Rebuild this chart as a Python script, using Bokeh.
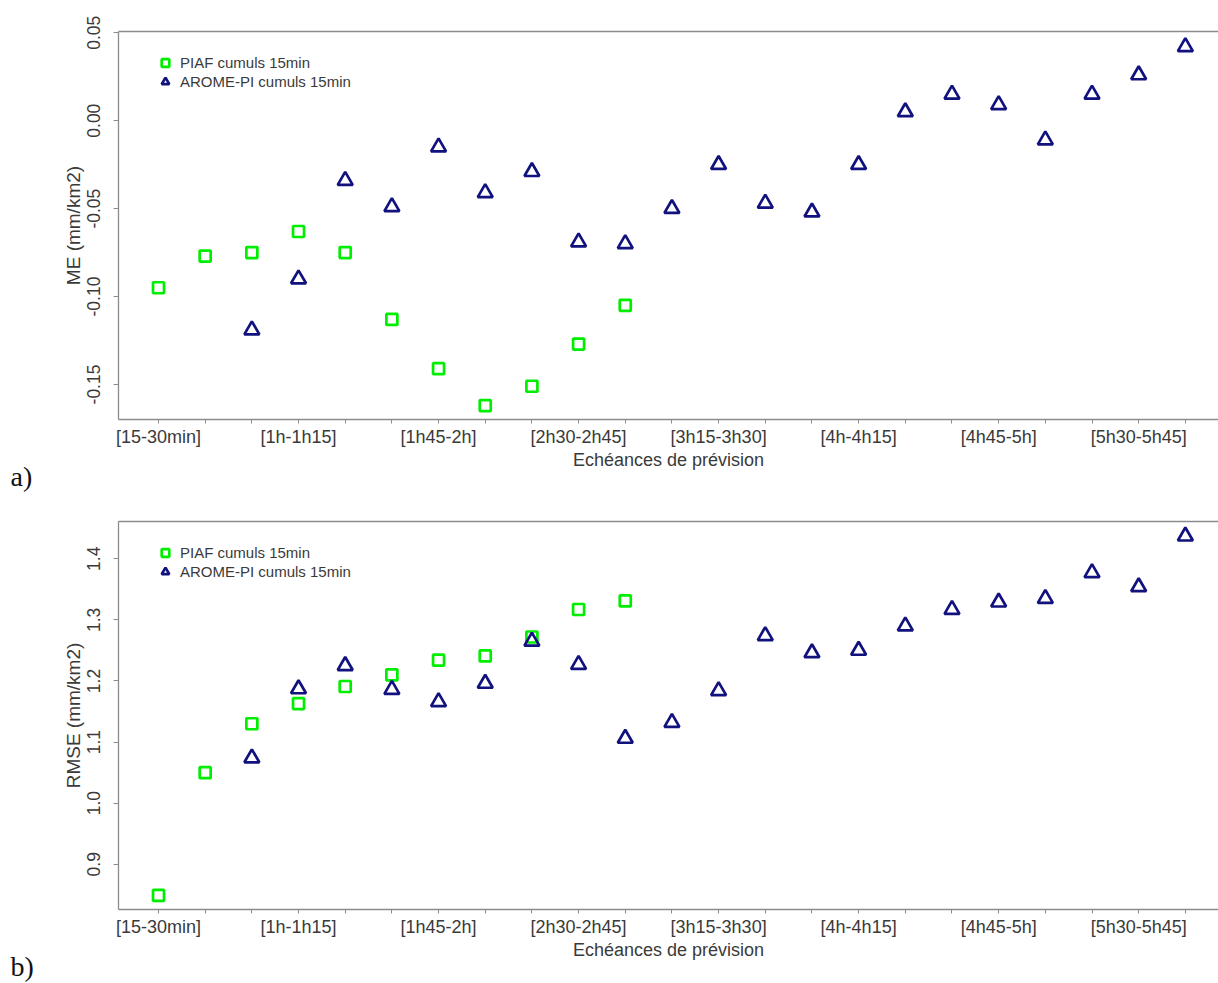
from bokeh.plotting import figure
from bokeh.models import FixedTicker, PrintfTickFormatter, Legend, LegendItem, Title, LinearAxis, Range1d
from bokeh.layouts import column
from bokeh.embed import file_html
from bokeh.resources import INLINE

# ---------------- data ----------------
categories = ["[15-30min]", "[30-45min]", "[45min-1h]", "[1h-1h15]", "[1h15-1h30]",
              "[1h30-1h45]", "[1h45-2h]", "[2h-2h15]", "[2h15-2h30]", "[2h30-2h45]",
              "[2h45-3h]", "[3h-3h15]", "[3h15-3h30]", "[3h30-3h45]", "[3h45-4h]",
              "[4h-4h15]", "[4h15-4h30]", "[4h30-4h45]", "[4h45-5h]", "[5h-5h15]",
              "[5h15-5h30]", "[5h30-5h45]", "[5h45-6h]"]

piaf_cats = categories[:11]
arome_cats = categories[2:]

me_piaf = [-0.095, -0.077, -0.075, -0.063, -0.075, -0.113, -0.141, -0.162, -0.151, -0.127, -0.105]
me_arome = [-0.119, -0.090, -0.034, -0.049, -0.015, -0.041, -0.029, -0.069, -0.070, -0.050,
            -0.025, -0.047, -0.052, -0.025, 0.005, 0.015, 0.009, -0.011, 0.015, 0.026, 0.042]

rmse_piaf = [0.849, 1.050, 1.130, 1.163, 1.191, 1.210, 1.234, 1.241, 1.272, 1.317, 1.331]
rmse_arome = [1.074, 1.187, 1.225, 1.186, 1.166, 1.196, 1.265, 1.227, 1.106, 1.132,
              1.184, 1.274, 1.246, 1.250, 1.290, 1.317, 1.329, 1.335, 1.377, 1.354, 1.437]

me_ticks = [-0.15, -0.10, -0.05, 0.00, 0.05]
rmse_ticks = [0.9, 1.0, 1.1, 1.2, 1.3, 1.4]

series_names = ["PIAF cumuls 15min", "AROME-PI cumuls 15min"]
x_title = "Echéances de prévision"

# ---------------- style ----------------
GREEN = "#00ee00"
NAVY = "#12127e"
TXT = "#3a3a3a"
AX = "#8c8c8c"
FONT = "Liberation Sans"

xi = {c: i for i, c in enumerate(categories)}
shown_labels = {i: (c if i % 3 == 0 else "") for i, c in enumerate(categories)}


def make_panel(y_piaf, y_arome, yrange, yticks, yfmt, ylabel, tag, tag_standoff,
               height, top, bottom):
    p = figure(width=1218, height=height, output_backend="svg", toolbar_location=None,
               x_range=Range1d(-0.857, 22.71), y_range=Range1d(*yrange),
               min_border_left=118, min_border_right=0, min_border_top=top,
               min_border_bottom=bottom, background_fill_color="white",
               border_fill_color="white")
    p.outline_line_color = None
    p.xgrid.visible = False
    p.ygrid.visible = False

    r1 = p.scatter([xi[c] for c in piaf_cats], y_piaf, marker="square", size=11,
                   fill_color=None, line_color=GREEN, line_width=2.7)
    r2 = p.scatter([xi[c] for c in arome_cats], y_arome, marker="triangle", size=15,
                   fill_color=None, line_color=NAVY, line_width=2.7)

    xa = p.xaxis[0]
    xa.ticker = FixedTicker(ticks=list(range(len(categories))))
    xa.major_label_overrides = shown_labels
    xa.minor_tick_line_color = None
    xa.major_tick_in = 0
    xa.major_tick_out = 4
    xa.major_tick_line_color = AX
    xa.axis_line_color = AX
    xa.axis_line_width = 1.3
    xa.major_label_text_font = FONT
    xa.major_label_text_font_size = "18px"
    xa.major_label_text_color = TXT
    xa.major_label_standoff = 3
    xa.axis_label = x_title
    xa.axis_label_text_font = FONT
    xa.axis_label_text_font_size = "18px"
    xa.axis_label_text_font_style = "normal"
    xa.axis_label_text_color = TXT
    xa.axis_label_standoff = 0

    ya = p.yaxis[0]
    ya.ticker = FixedTicker(ticks=yticks)
    ya.formatter = PrintfTickFormatter(format=yfmt)
    ya.minor_tick_line_color = None
    ya.major_tick_in = 0
    ya.major_tick_out = 5
    ya.major_tick_line_color = AX
    ya.axis_line_color = AX
    ya.axis_line_width = 1.3
    ya.major_label_orientation = "vertical"
    ya.major_label_text_font = FONT
    ya.major_label_text_font_size = "17.5px"
    ya.major_label_text_color = TXT
    ya.major_label_standoff = 13
    ya.axis_label = ylabel
    ya.axis_label_text_font = FONT
    ya.axis_label_text_font_size = "19px"
    ya.axis_label_text_font_style = "normal"
    ya.axis_label_text_color = TXT
    ya.axis_label_standoff = 1

    top_axis = LinearAxis(ticker=FixedTicker(ticks=[]), major_label_text_font_size="0px",
                          axis_line_color=AX, axis_line_width=1.3,
                          major_tick_line_color=None, minor_tick_line_color=None)
    p.add_layout(top_axis, "above")

    frame_h = height - top - bottom
    legend = Legend(items=[LegendItem(label=series_names[0], renderers=[r1]),
                           LegendItem(label=series_names[1], renderers=[r2])],
                    location=(37, frame_h - 59.5), glyph_width=20, glyph_height=19,
                    label_height=19, spacing=0, padding=0, margin=0, label_standoff=5,
                    label_text_font=FONT, label_text_font_size="15px",
                    label_text_color=TXT, background_fill_alpha=0, border_line_color=None)
    p.add_layout(legend)

    p.add_layout(Title(text=tag, align="left", offset=-108, standoff=tag_standoff,
                       vertical_align="top",
                       text_font="Liberation Serif", text_font_size="28px",
                       text_font_style="normal", text_color="#111111"), "below")
    return p


p1 = make_panel(me_piaf, me_arome, (-0.1699, 0.0507), me_ticks, "%.2f", "ME (mm/km2)", "a)",
                -24, 500, 31, 81)
p2 = make_panel(rmse_piaf, rmse_arome, (0.826, 1.461), rmse_ticks, "%.1f", "RMSE (mm/km2)", "b)",
                -24, 483, 21, 74)

layout = column(p1, p2, spacing=0)
open("out.html", "w").write(file_html(layout, INLINE))
